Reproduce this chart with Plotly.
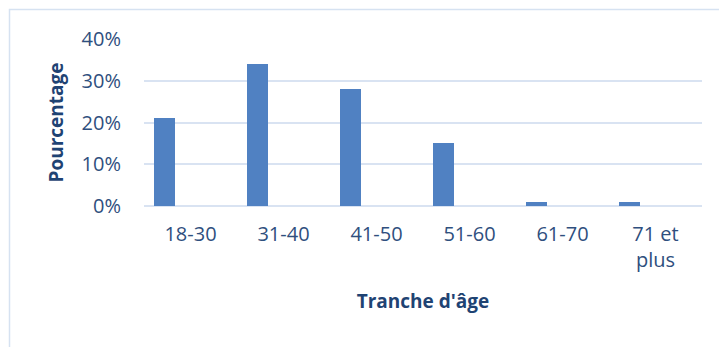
import plotly.graph_objects as go

# Répartition par tranche d'âge
categories = ["18-30", "31-40", "41-50", "51-60", "61-70", "71 et<br>plus"]
percentages = [0.21, 0.34, 0.28, 0.15, 0.01, 0.01]
y_ticks = [0, 0.1, 0.2, 0.3, 0.4]
y_tick_labels = ["0%", "10%", "20%", "30%", "40%"]

W, H = 719, 347
M_L, M_R, M_T, M_B = 144, 17, 39, 141

TICK_COLOR = "#2f4f7e"
TITLE_COLOR = "#1f4373"
GRID_COLOR = "#d9e3f2"
FONT = "Open Sans"

fig = go.Figure()
fig.add_trace(go.Bar(
    x=categories,
    y=percentages,
    width=0.226,
    offset=-0.392,
    marker=dict(color="#5081c2", line=dict(width=0)),
))

# Light frame around the chart area
pw = W - M_L - M_R
ph = H - M_T - M_B
fig.add_shape(
    type="rect", xref="paper", yref="paper",
    x0=(9.5 - M_L) / pw, x1=(W + 5 - M_L) / pw,
    y0=-(H + 5 - M_T - ph) / ph, y1=(H - 9.5 - M_B) / ph,
    line=dict(color="#d6e2f1", width=1.5), fillcolor="rgba(0,0,0,0)",
    layer="below",
)

fig.update_layout(
    width=W, height=H,
    margin=dict(l=M_L, r=M_R, t=M_T, b=M_B),
    paper_bgcolor="white", plot_bgcolor="white",
    showlegend=False,
    font=dict(family=FONT, color=TICK_COLOR),
    bargap=0,
)
fig.update_xaxes(
    type="category",
    range=[-0.5, 5.5],
    showgrid=False, zeroline=False, showline=False,
    ticks="", ticklabelstandoff=14,
    tickfont=dict(size=20, color=TICK_COLOR, family=FONT),
    title=dict(text="<b>Tranche d'âge</b>", standoff=22,
               font=dict(size=19, color=TITLE_COLOR, family=FONT)),
)
fig.update_yaxes(
    range=[0, 0.4],
    tickvals=y_ticks, ticktext=y_tick_labels,
    showgrid=True, gridcolor=GRID_COLOR, gridwidth=2,
    zeroline=True, zerolinecolor=GRID_COLOR, zerolinewidth=2,
    showline=False, ticks="", ticklabelstandoff=22,
    tickfont=dict(size=20, color=TICK_COLOR, family=FONT),
    title=dict(text="<b>Pourcentage</b>", standoff=12,
               font=dict(size=19, color=TITLE_COLOR, family=FONT)),
)

fig.write_html("out.html")
